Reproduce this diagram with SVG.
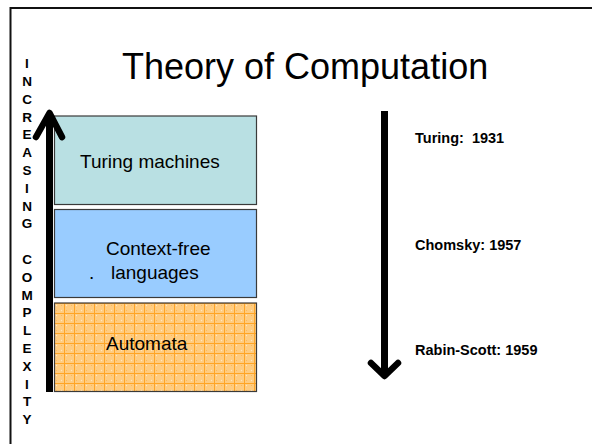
<svg xmlns="http://www.w3.org/2000/svg" width="592" height="444" viewBox="0 0 592 444">
<style>
.box{stroke:#3a3a3a;stroke-width:1.2}
.lbl{font-family:"Liberation Sans",Arial,sans-serif;font-size:19px;fill:#000}
.yr{font-family:"Liberation Sans",Arial,sans-serif;font-size:14.5px;font-weight:bold;fill:#000;white-space:pre}
.vert{font-family:"Liberation Sans",Arial,sans-serif;font-size:13.5px;font-weight:bold;fill:#000}
.arr{stroke:#000;stroke-width:7;fill:none}
.head{stroke:#000;stroke-width:6.5;fill:none;stroke-linecap:round;stroke-linejoin:round}
</style>
<defs>
<pattern id="grid" width="10" height="10" patternUnits="userSpaceOnUse" x="54" y="303">
<rect width="10" height="10" fill="#FFCC80"/>
<circle cx="2.5" cy="2.5" r="0.7" fill="#FFE6C0"/>
<circle cx="7.5" cy="7.5" r="0.7" fill="#FFE6C0"/>
<circle cx="7.5" cy="2.5" r="0.6" fill="#FFB850"/>
<circle cx="2.5" cy="7.5" r="0.6" fill="#FFB850"/>
<path d="M0 0.5H10M0.5 0V10" stroke="#FFA526" stroke-width="1"/>
</pattern>
</defs>
<rect width="592" height="444" fill="#fff"/>
<rect x="10.5" y="8" width="620" height="480" fill="none" stroke="#111" stroke-width="2"/>
<text x="122" y="79" font-family="Liberation Sans, Arial, sans-serif" font-size="36" fill="#000">Theory of Computation</text>
<text class="vert" text-anchor="middle"><tspan x="27" y="68.1">I</tspan><tspan x="27" dy="17.8">N</tspan><tspan x="27" dy="17.8">C</tspan><tspan x="27" dy="17.8">R</tspan><tspan x="27" dy="17.8">E</tspan><tspan x="27" dy="17.8">A</tspan><tspan x="27" dy="17.8">S</tspan><tspan x="27" dy="17.8">I</tspan><tspan x="27" dy="17.8">N</tspan><tspan x="27" dy="17.8">G</tspan><tspan x="27" dy="35.6">C</tspan><tspan x="27" dy="17.8">O</tspan><tspan x="27" dy="17.8">M</tspan><tspan x="27" dy="17.8">P</tspan><tspan x="27" dy="17.8">L</tspan><tspan x="27" dy="17.8">E</tspan><tspan x="27" dy="17.8">X</tspan><tspan x="27" dy="17.8">I</tspan><tspan x="27" dy="17.8">T</tspan><tspan x="27" dy="17.8">Y</tspan></text>
<g id="turing">
<rect class="box" x="54.5" y="116" width="202" height="88.5" fill="#B9E0E3"/>
<text class="lbl" x="80" y="168">Turing machines</text>
</g>
<g id="cfl">
<rect class="box" x="54.5" y="209.5" width="202" height="88" fill="#99CCFF"/>
<text class="lbl" x="106" y="255">Context-free</text>
<text class="lbl" x="89" y="279">.</text>
<text class="lbl" x="111" y="279">languages</text>
</g>
<g id="automata">
<rect class="box" x="54.5" y="303" width="202" height="88.5" fill="url(#grid)"/>
<text class="lbl" x="106" y="350">Automata</text>
</g>
<g id="years">
<text class="yr" x="415" y="143">Turing:  1931</text>
<text class="yr" x="415" y="250">Chomsky: 1957</text>
<text class="yr" x="415" y="355">Rabin-Scott: 1959</text>
</g>
<g id="connectors">
<line class="arr" x1="49.5" y1="392" x2="49.5" y2="116"/>
<polyline class="head" points="36,137 49.5,113 62,137"/>
<line class="arr" x1="384.5" y1="111" x2="384.5" y2="372"/>
<polyline class="head" points="371,363 384.5,376 398,363"/>
</g>
</svg>
